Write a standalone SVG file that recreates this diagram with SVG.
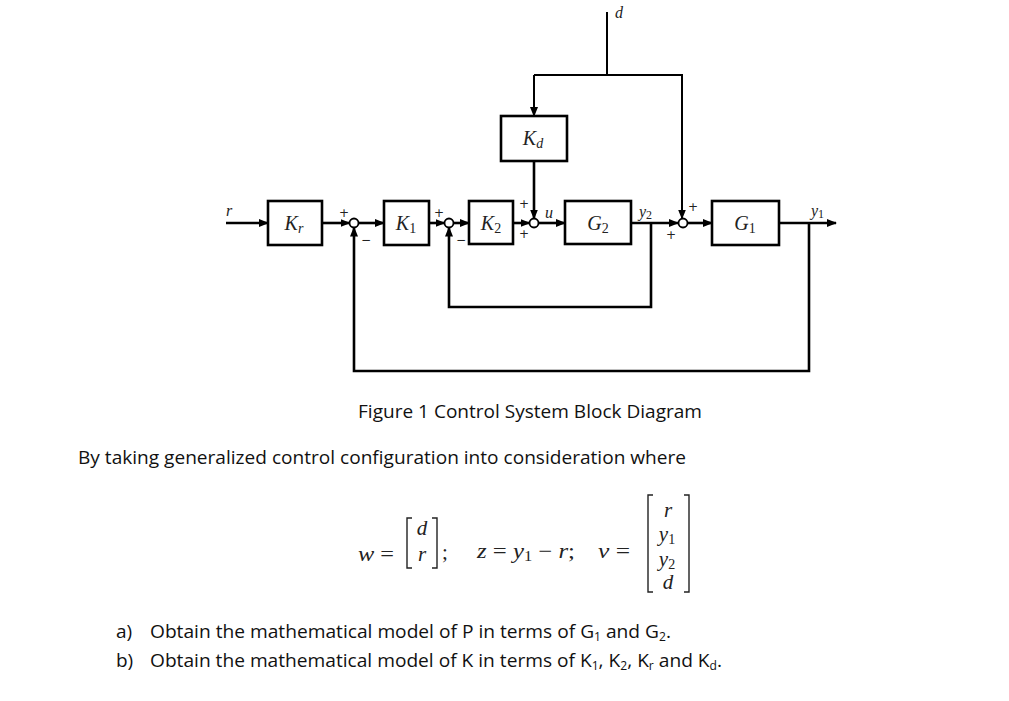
<svg xmlns="http://www.w3.org/2000/svg" width="1009" height="701" viewBox="0 0 1009 701">
<style>
.box{fill:#fff;stroke:#000;stroke-width:2.6}
.wire{fill:none;stroke:#000;stroke-width:2.6}
.thin{fill:none;stroke:#000;stroke-width:2}
.br{fill:none;stroke:#222;stroke-width:1.4}
.sum{fill:#fff;stroke:#000;stroke-width:1.8}
.m{font-family:"Liberation Serif",serif;font-style:italic;font-size:20px;fill:#222}
.lbl{font-family:"Liberation Serif",serif;font-style:italic;font-size:16px;fill:#222}
.sg{font-family:"DejaVu Sans",sans-serif;font-size:12px;fill:#222}
.up{font-style:normal}
.body{font-family:"Open Sans","Liberation Sans",sans-serif;font-size:19px;fill:#111}
.eq{font-family:"Liberation Serif",serif;font-size:21px;fill:#222}
</style>
<defs>
<marker id="ah" markerWidth="10" markerHeight="8" refX="9" refY="4" orient="auto" markerUnits="userSpaceOnUse">
<path d="M0,0 L10,4 L0,8 Z" fill="#000"/>
</marker>
</defs>
<rect width="1009" height="701" fill="#fff"/>

<g id="connectors">
<path class="wire" d="M226,223 H268" marker-end="url(#ah)"/>
<path class="wire" d="M322,223 H349.5" marker-end="url(#ah)"/>
<path class="wire" d="M359,223 H384" marker-end="url(#ah)"/>
<path class="wire" d="M429,223 H444.5" marker-end="url(#ah)"/>
<path class="wire" d="M454,223 H469" marker-end="url(#ah)"/>
<path class="wire" d="M513,223 H529.5" marker-end="url(#ah)"/>
<path class="wire" d="M539,223 H565" marker-end="url(#ah)"/>
<path class="wire" d="M631,223 H678" marker-end="url(#ah)"/>
<path class="wire" d="M687.5,223 H712" marker-end="url(#ah)"/>
<path class="wire" d="M779,223 H836" marker-end="url(#ah)"/>
<path class="thin" d="M607,12 V75"/>
<path class="thin" d="M534,75 H682 V218.5" marker-end="url(#ah)"/>
<path class="thin" d="M534,75 V116" marker-end="url(#ah)"/>
<path class="wire" d="M534,161 V218.5" marker-end="url(#ah)"/>
<path class="wire" d="M651,223 V307 H449 V227.5" marker-end="url(#ah)"/>
<path class="wire" d="M809,223 V371 H354 V227.5" marker-end="url(#ah)"/>
</g>

<g id="Kr"><rect class="box" x="268" y="201" width="54" height="44"/><text class="m" x="294" y="230" text-anchor="middle">K<tspan font-size="14" dy="3">r</tspan></text></g>
<g id="K1"><rect class="box" x="384" y="201" width="45" height="44"/><text class="m" x="406" y="230" text-anchor="middle">K<tspan class="up" font-size="14" dy="3">1</tspan></text></g>
<g id="K2"><rect class="box" x="469" y="201" width="44" height="43"/><text class="m" x="491" y="230" text-anchor="middle">K<tspan class="up" font-size="14" dy="3">2</tspan></text></g>
<g id="G2"><rect class="box" x="565" y="201" width="66" height="43"/><text class="m" x="598" y="230" text-anchor="middle">G<tspan class="up" font-size="14" dy="3">2</tspan></text></g>
<g id="G1"><rect class="box" x="712" y="201" width="67" height="44"/><text class="m" x="745" y="230" text-anchor="middle">G<tspan class="up" font-size="14" dy="3">1</tspan></text></g>
<g id="Kd"><rect class="box" x="501" y="116" width="66" height="45"/><text class="m" x="533" y="145" text-anchor="middle">K<tspan font-size="14" dy="3">d</tspan></text></g>

<g id="sum1"><circle class="sum" cx="354" cy="223" r="4.5"/><text class="sg" x="339" y="217">+</text><text class="sg" x="361" y="244">−</text></g>
<g id="sum2"><circle class="sum" cx="449" cy="223" r="4.5"/><text class="sg" x="434" y="217">+</text><text class="sg" x="456" y="244">−</text></g>
<g id="sum3"><circle class="sum" cx="534" cy="223" r="4.5"/><text class="sg" x="519" y="208">+</text><text class="sg" x="519" y="238">+</text></g>
<g id="sum4"><circle class="sum" cx="683" cy="223" r="4.5"/><text class="sg" x="688" y="211">+</text><text class="sg" x="666" y="239">+</text></g>

<g id="signals">
<text class="lbl" x="226" y="216">r</text>
<text class="lbl" x="615" y="18">d</text>
<text class="lbl" x="545" y="218">u</text>
<text class="lbl" x="639" y="217">y<tspan class="up" font-size="12" dy="2">2</tspan></text>
<text class="lbl" x="811" y="216">y<tspan class="up" font-size="12" dy="2">1</tspan></text>
</g>

<text class="body" x="358" y="418" textLength="344" lengthAdjust="spacingAndGlyphs">Figure 1 Control System Block Diagram</text>
<text class="body" x="78" y="464" textLength="608" lengthAdjust="spacingAndGlyphs">By taking generalized control configuration into consideration where</text>

<g id="equation">
<text class="eq" x="358" y="561" textLength="36" lengthAdjust="spacingAndGlyphs"><tspan font-style="italic">w</tspan> =</text>
<path class="br" d="M412,518 H407 V568 H412"/>
<text class="eq" x="422" y="535" text-anchor="middle" font-style="italic">d</text>
<text class="eq" x="422" y="561" text-anchor="middle" font-style="italic">r</text>
<path class="br" d="M432,518 H437 V568 H432"/>
<text class="eq" x="442" y="559">;</text>
<text class="eq" x="477" y="558" textLength="98" lengthAdjust="spacingAndGlyphs"><tspan font-style="italic">z</tspan> = <tspan font-style="italic">y</tspan><tspan font-size="14" dy="3">1</tspan><tspan dy="-3"> − </tspan><tspan font-style="italic">r</tspan>;</text>
<text class="eq" x="598" y="558" textLength="32" lengthAdjust="spacingAndGlyphs"><tspan font-style="italic">v</tspan> =</text>
<path class="br" d="M653,495 H648 V592 H653"/>
<text class="eq" x="668" y="517" text-anchor="middle" font-style="italic">r</text>
<text class="eq" x="667" y="541" text-anchor="middle"><tspan font-style="italic">y</tspan><tspan font-size="14" dy="3">1</tspan></text>
<text class="eq" x="667" y="566" text-anchor="middle"><tspan font-style="italic">y</tspan><tspan font-size="14" dy="3">2</tspan></text>
<text class="eq" x="668" y="589" text-anchor="middle" font-style="italic">d</text>
<path class="br" d="M684,495 H689 V592 H684"/>
</g>

<g id="questions">
<text class="body" x="116" y="638">a)</text>
<text class="body" x="150" y="638" textLength="521" lengthAdjust="spacingAndGlyphs">Obtain the mathematical model of P in terms of G<tspan font-size="12" dy="3">1</tspan><tspan dy="-3"> and G</tspan><tspan font-size="12" dy="3">2</tspan><tspan dy="-3">.</tspan></text>
<text class="body" x="116" y="667">b)</text>
<text class="body" x="150" y="667" textLength="572" lengthAdjust="spacingAndGlyphs">Obtain the mathematical model of K in terms of K<tspan font-size="12" dy="3">1</tspan><tspan dy="-3">, K</tspan><tspan font-size="12" dy="3">2</tspan><tspan dy="-3">, K</tspan><tspan font-size="12" dy="3">r</tspan><tspan dy="-3"> and K</tspan><tspan font-size="12" dy="3">d</tspan><tspan dy="-3">.</tspan></text>
</g>
</svg>
